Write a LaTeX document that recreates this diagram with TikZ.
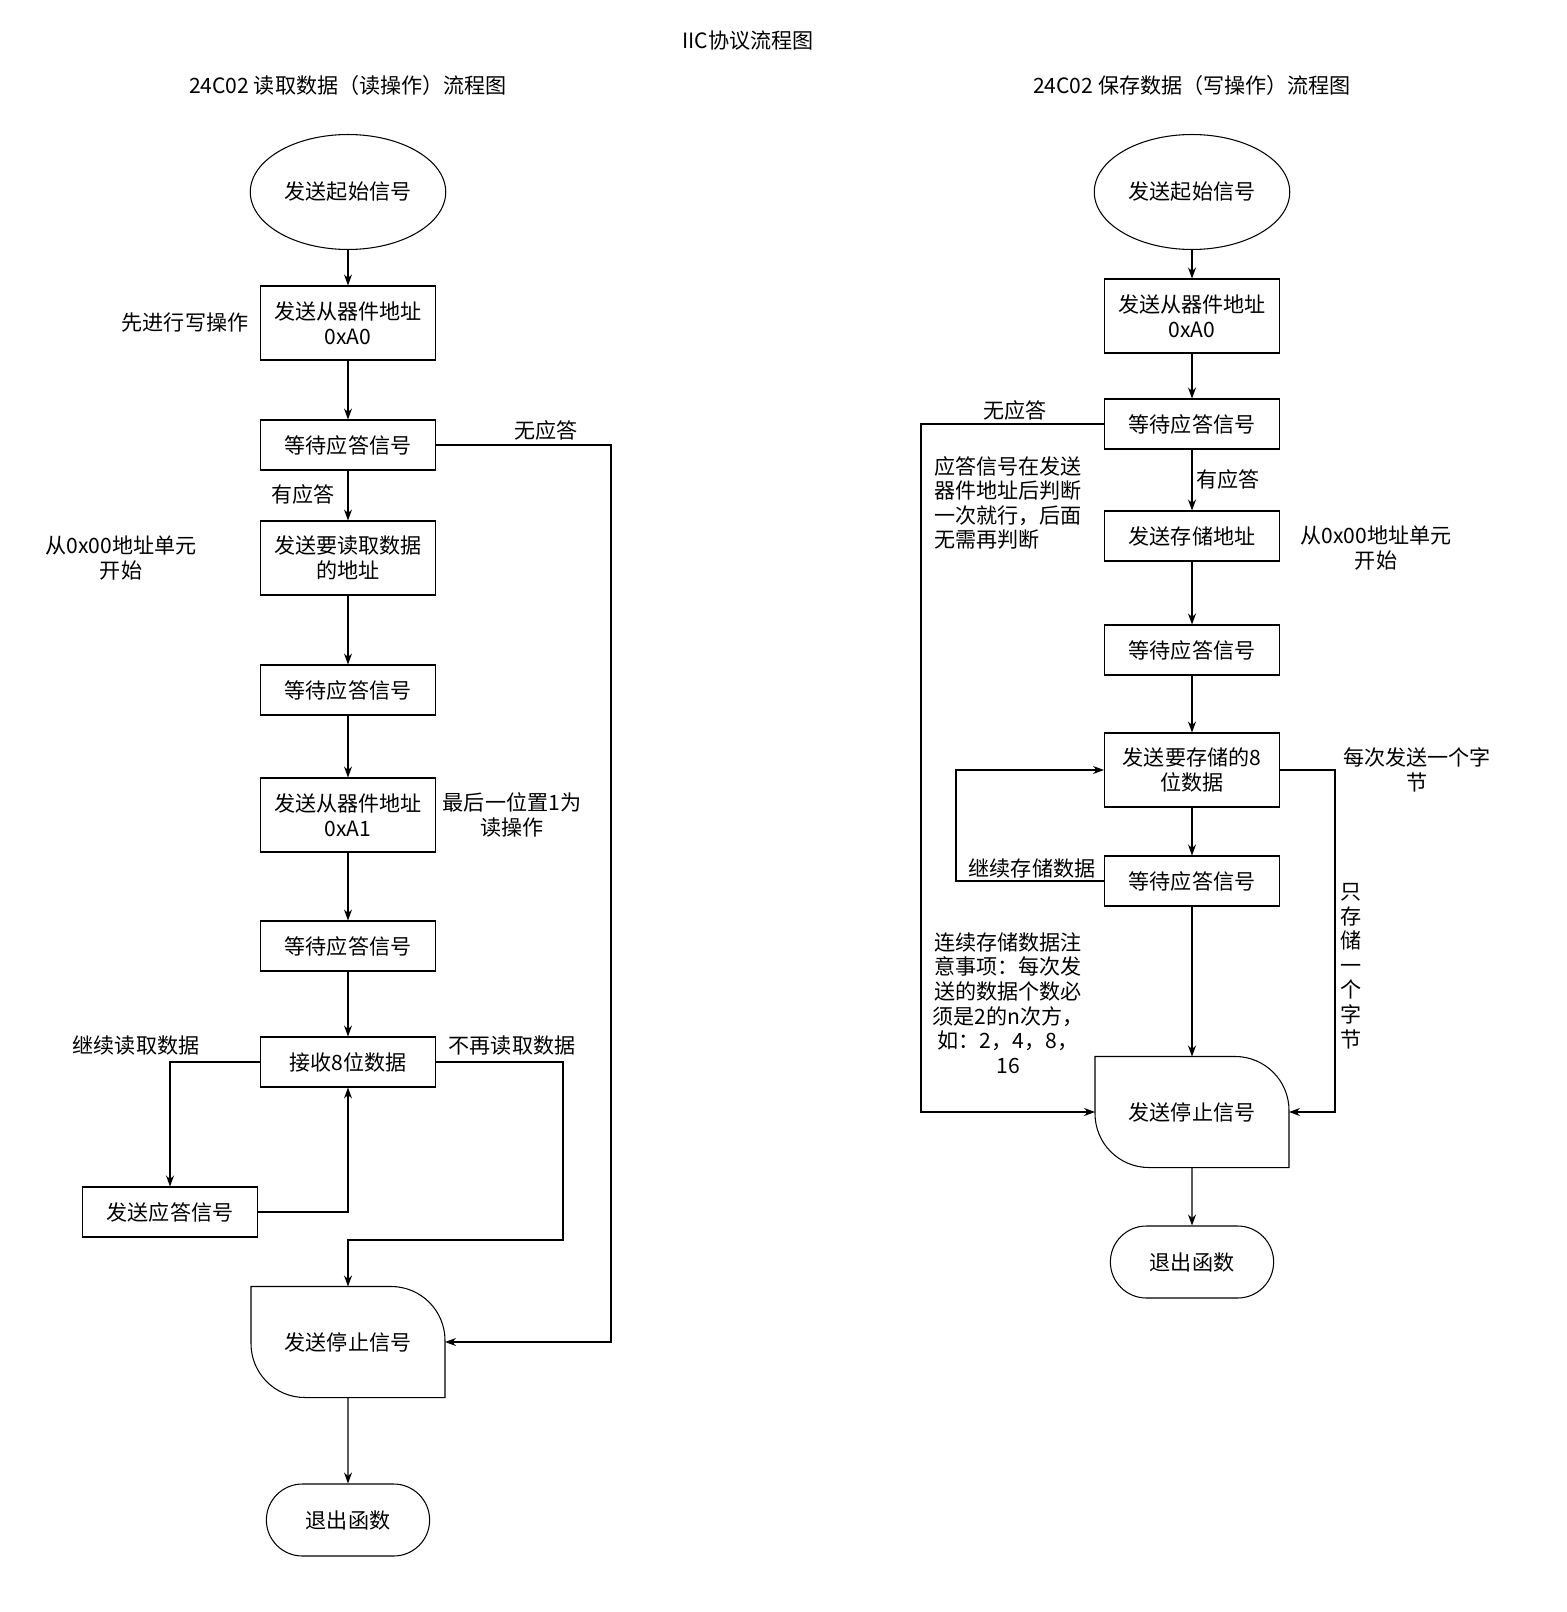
\documentclass[tikz,border=0pt]{standalone}
\usepackage{fontspec}
\setmainfont{Noto Sans CJK SC}
\usetikzlibrary{arrows.meta,shapes.misc,shapes.geometric}
\tikzset{
  box/.style={draw, minimum width=3.5cm, minimum height=1cm, align=center, inner sep=1pt},
  tall/.style={box, minimum height=1.48cm},
  start/.style={draw, ellipse, minimum width=3.5cm, minimum height=2.3cm},
  exit/.style={draw, rounded rectangle, minimum width=3.5cm, minimum height=1.44cm},
  stopbox/.style={minimum width=3.86cm, minimum height=2.2cm, inner sep=0pt},
  lbl/.style={align=center},
  flow/.style={-{Stealth[length=2.2mm,width=1.6mm]}},
}
\newcommand{\stopshape}[1]{%
  \draw ([xshift=-1.08cm]#1.north east) to[out=0,in=90] ([yshift=-1.08cm]#1.north east)
    -- (#1.south east) -- ([xshift=1.08cm]#1.south west) to[out=180,in=270]
    ([yshift=1.08cm]#1.south west) -- (#1.north west) -- cycle;}
\begin{document}
\begin{tikzpicture}[x=0.02cm, y=-0.02cm, font=\large, line width=0.6pt]
  \useasboundingbox (0,0) rectangle (1566,1612);
  % titles
  \node (t0) at (748,41) {IIC协议流程图};
  \node (t1) at (348,85) {24C02 读取数据（读操作）流程图};
  \node (t2) at (1192,85) {24C02 保存数据（写操作）流程图};

  % read flow
  \node[start] (ra) at (348,192) {发送起始信号};
  \node[tall] (rb) at (348,323) {发送从器件地址\\0xA0};
  \node[box] (rc) at (348,445) {等待应答信号};
  \node[tall] (rd) at (348,558) {发送要读取数据\\的地址};
  \node[box] (re) at (348,690) {等待应答信号};
  \node[tall] (rf) at (348,815) {发送从器件地址\\0xA1};
  \node[box] (rg) at (348,946) {等待应答信号};
  \node[box] (rh) at (348,1062) {接收8位数据};
  \node[box] (ri) at (170,1212) {发送应答信号};
  \node[stopbox] (rs) at (348,1342) {发送停止信号};
  \stopshape{rs}
  \node[exit] (rx) at (348,1520) {退出函数};

  \draw[flow] (ra) -- (rb);
  \draw[flow] (rb) -- (rc);
  \draw[flow] (rc) -- (rd);
  \draw[flow] (rd) -- (re);
  \draw[flow] (re) -- (rf);
  \draw[flow] (rf) -- (rg);
  \draw[flow] (rg) -- (rh);
  \draw[flow] (rh.west) -| (ri.north);
  \draw[flow] (ri.east) -| (rh.south);
  \draw[flow] (rh.east) -- (563,1062) -- (563,1240) -| (rs.north);
  \draw[flow] (rc.east) -- (611,445) |- (rs.east);
  \draw[flow] (rs) -- (rx);

  \node[lbl] (l1) at (185,323) {先进行写操作};
  \node[lbl] (l2) at (546,430) {无应答};
  \node[lbl] (l3) at (303,494) {有应答};
  \node[lbl] (l4) at (121,558) {从0x00地址单元\\开始};
  \node[lbl] (l5) at (512,815) {最后一位置1为\\读操作};
  \node[lbl] (l6) at (136,1046) {继续读取数据};
  \node[lbl] (l7) at (512,1046) {不再读取数据};

  % write flow
  \node[start] (wa) at (1192,192) {发送起始信号};
  \node[tall] (wb) at (1192,316) {发送从器件地址\\0xA0};
  \node[box] (wc) at (1192,424) {等待应答信号};
  \node[box] (wd) at (1192,536) {发送存储地址};
  \node[box] (we) at (1192,650) {等待应答信号};
  \node[tall] (wf) at (1192,770) {发送要存储的8\\位数据};
  \node[box] (wg) at (1192,881) {等待应答信号};
  \node[stopbox] (ws) at (1192,1112) {发送停止信号};
  \stopshape{ws}
  \node[exit] (wx) at (1192,1262) {退出函数};

  \draw[flow] (wa) -- (wb);
  \draw[flow] (wb) -- (wc);
  \draw[flow] (wc) -- (wd);
  \draw[flow] (wd) -- (we);
  \draw[flow] (we) -- (wf);
  \draw[flow] (wf) -- (wg);
  \draw[flow] (wg) -- (ws);
  \draw[flow] (wg.west) -- (956,881) |- (wf.west);
  \draw[flow] (wf.east) -- (1335,770) |- (ws.east);
  \draw[flow] (wc.west) -- (921,424) |- (ws.west);
  \draw[flow] (ws) -- (wx);

  \node[lbl] (m1) at (1015,410) {无应答};
  \node[align=left] (m2) at (1008,503) {应答信号在发送\\器件地址后判断\\一次就行，后面\\无需再判断};
  \node[lbl] (m3) at (1228,479) {有应答};
  \node[lbl] (m4) at (1376,548) {从0x00地址单元\\开始};
  \node[lbl] (m5) at (1417,770) {每次发送一个字\\节};
  \node[lbl] (m6) at (1032,868) {继续存储数据};
  \node[lbl, inner sep=0pt] (m7) at (1351,966) {只\\存\\储\\一\\个\\字\\节};
  \node[lbl] (m8) at (1008,1003) {连续存储数据注\\意事项：每次发\\送的数据个数必\\须是2的n次方，\\如：2，4，8，\\16};
\end{tikzpicture}
\end{document}
